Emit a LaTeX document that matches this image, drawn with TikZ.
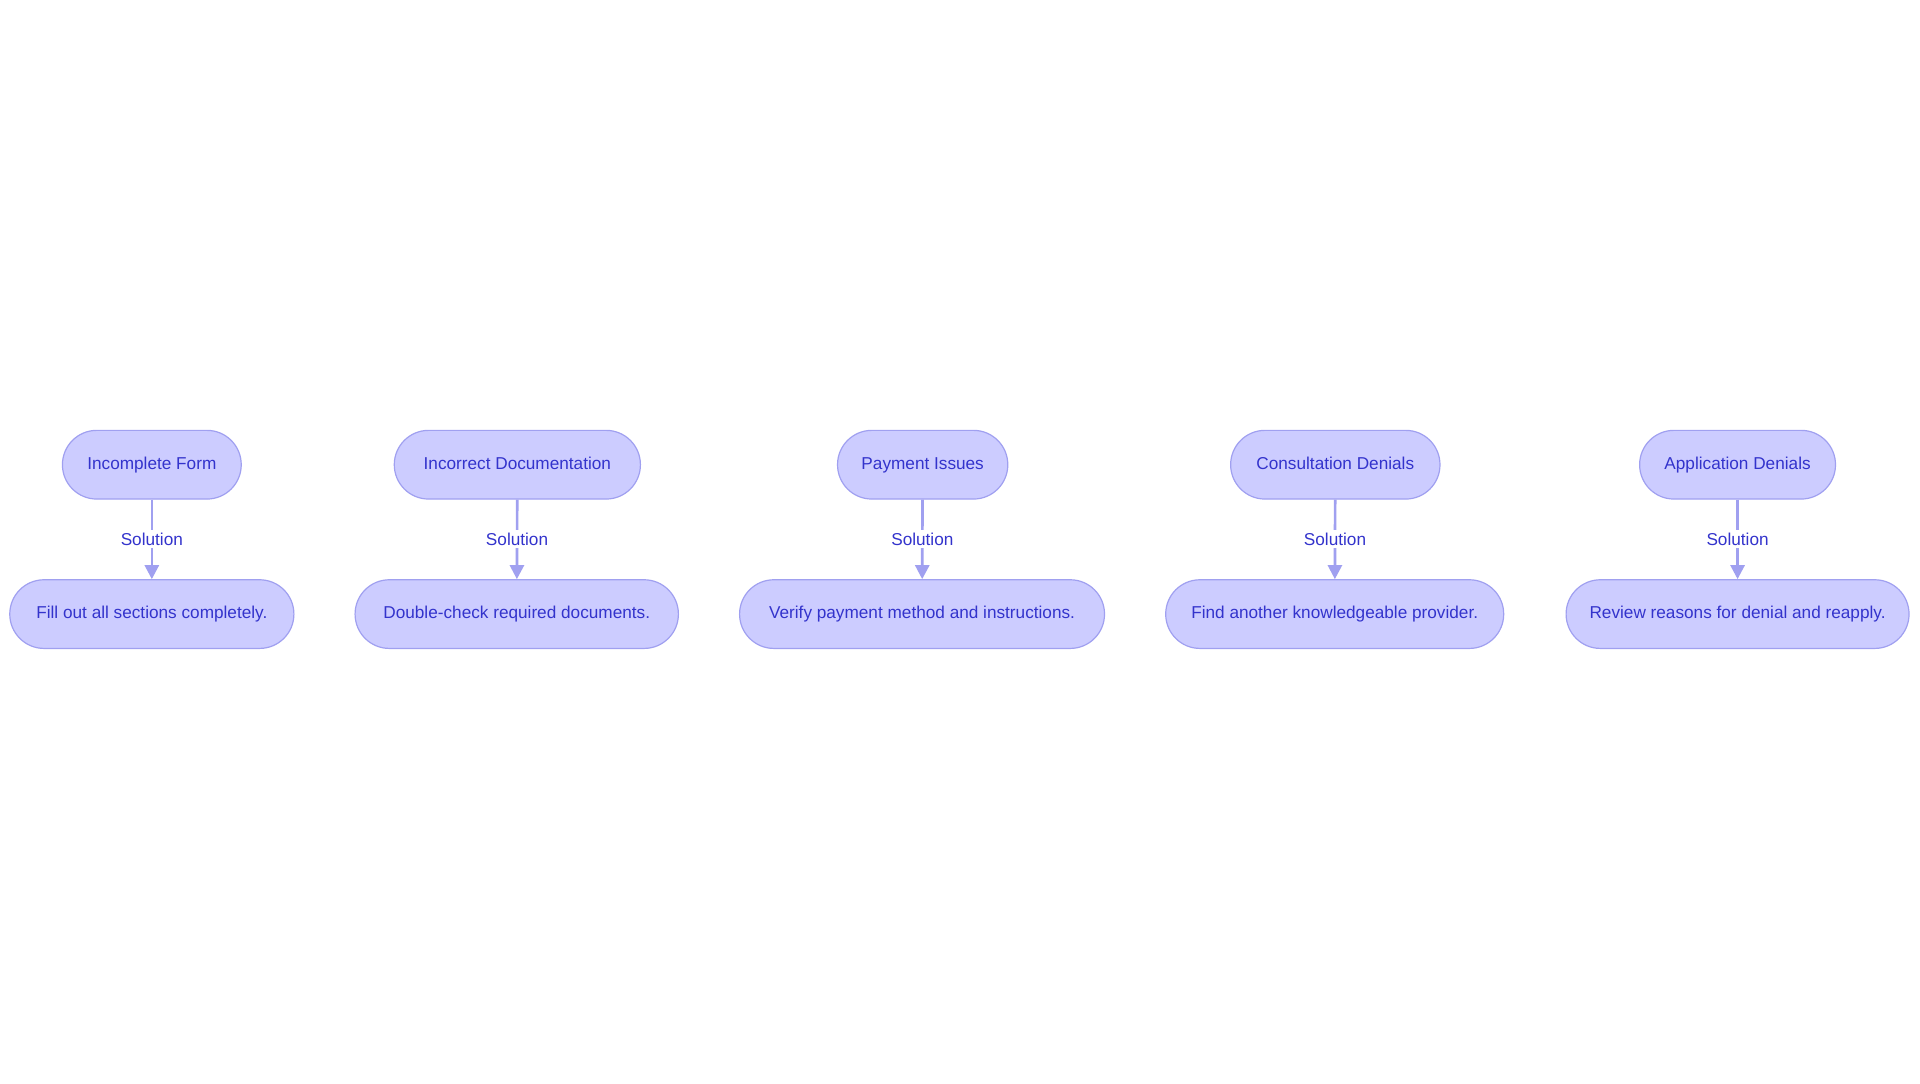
\documentclass[tikz,border=0pt]{standalone}
\usepackage{fontspec}
\setmainfont{Liberation Sans}
\usetikzlibrary{arrows.meta}
\definecolor{fillc}{RGB}{204,204,255}
\definecolor{strokec}{RGB}{160,160,240}
\definecolor{textc}{RGB}{51,51,204}
\definecolor{edgec}{RGB}{160,160,240}
\tikzset{
  box/.style={draw=strokec, fill=fillc, line width=0.9pt, rounded corners=25.7pt,
    minimum height=51.5pt, text=textc, font=\fontsize{12.9pt}{15pt}\selectfont, inner sep=0pt,
    text height=9.3pt, text depth=2.7pt},
  edge/.style={draw=edgec, line width=2pt, -{Triangle[length=10.5pt,width=10.5pt]}},
  lbl/.style={fill=white, text=textc, font=\fontsize{12.9pt}{15pt}\selectfont, inner sep=2pt}
}
\begin{document}
\begin{tikzpicture}[x=0.9184pt,y=-0.9184pt]
\useasboundingbox[fill=white] (0,0) rectangle (1568,884.5);
\node[box, minimum width=134.1pt] (t1) at (124,379.5) {Incomplete Form};
\node[box, minimum width=213.1pt] (b1) at (124,501.5) {Fill out all sections completely.};
\node[box, minimum width=184.6pt] (t2) at (422.5,379.5) {Incorrect Documentation};
\node[box, minimum width=242.5pt] (b2) at (422,501.5) {Double-check required documents.};
\node[box, minimum width=127.7pt] (t3) at (753.5,379.5) {Payment Issues};
\node[box, minimum width=273.7pt] (b3) at (753,501.5) {Verify payment method and instructions.};
\node[box, minimum width=157pt] (t4) at (1090.5,379.5) {Consultation Denials};
\node[box, minimum width=253.5pt] (b4) at (1090,501.5) {Find another knowledgeable provider.};
\node[box, minimum width=146.9pt] (t5) at (1419,379.5) {Application Denials};
\node[box, minimum width=257.2pt] (b5) at (1419,501.5) {Review reasons for denial and reapply.};
\foreach \i in {1,...,5}{
  \draw[edge] (t\i) -- node[lbl]{Solution} (b\i);
}
\end{tikzpicture}
\end{document}
